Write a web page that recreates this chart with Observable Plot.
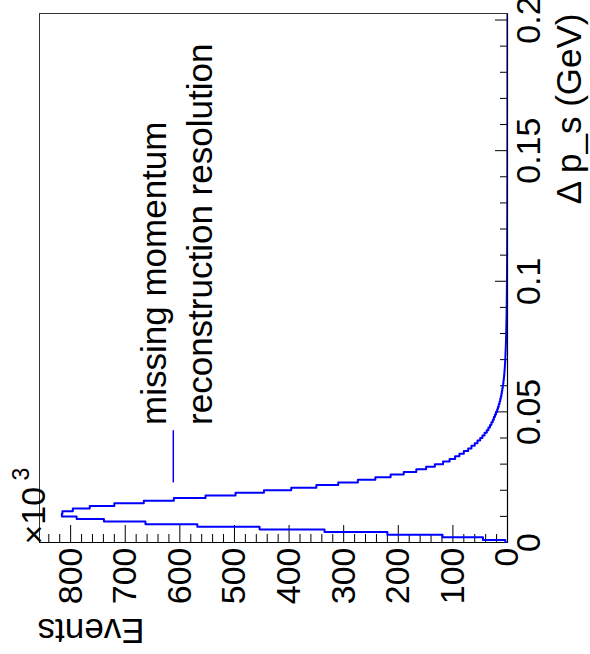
<!DOCTYPE html>
<html><head><meta charset="utf-8">
<script src="https://cdn.jsdelivr.net/npm/d3@7"></script>
<script src="https://cdn.jsdelivr.net/npm/@observablehq/plot@0.6"></script>
<style>
html,body{margin:0;padding:0;background:#fff;}
#wrap{position:relative;width:590px;height:654px;overflow:hidden;background:#fff;}
#wrap svg{position:absolute;left:0;top:0;width:654px !important;height:590px !important;max-width:none !important;transform-origin:0 0;transform:translate(0,654px) rotate(-90deg);}
</style></head><body><div id="wrap"></div>
<script>
// Histogram of Δp_s, bin width 0.001 GeV, counts in units of 10^3 events
const binWidth = 0.001;
const counts = [
  4, 45, 119, 220, 335, 454, 568, 663, 739, 789,
  816, 815, 796, 765, 720, 666, 611, 553, 498, 446,
  396, 350, 310, 274, 242, 214, 190, 167, 149, 133,
  118, 106, 96, 88, 80, 72, 66, 60, 55, 50,
  46, 42, 38, 35, 32, 29.5, 27, 25, 23, 21,
  19, 17.5, 16, 14.5, 13.3, 12.2, 11.2, 10.3, 9.5, 8.7,
  8, 7.4, 6.8, 6.3, 5.9, 5.5, 5.1, 4.8, 4.5, 4.2,
  4.0, 3.8, 3.6, 3.4, 3.2, 3.0, 2.9, 2.7, 2.6, 2.5,
  2.4, 2.3, 2.2, 2.1, 2.0, 1.9, 1.8, 1.7, 1.65, 1.6,
  1.5, 1.45, 1.4, 1.35, 1.3, 1.25, 1.2, 1.15, 1.1, 1.05,
  1.0, 0.97, 0.94, 0.91, 0.88, 0.85, 0.82, 0.79, 0.76, 0.74,
  0.72, 0.7, 0.68, 0.66, 0.64, 0.62, 0.6, 0.58, 0.56, 0.54,
  0.52, 0.5, 0.49, 0.48, 0.46, 0.45, 0.44, 0.43, 0.42, 0.41,
  0.4, 0.39, 0.38, 0.37, 0.36, 0.35, 0.34, 0.33, 0.32, 0.31,
  0.3, 0.29, 0.28, 0.28, 0.27, 0.26, 0.25, 0.25, 0.24, 0.23,
  0.22, 0.22, 0.21, 0.21, 0.2, 0.2, 0.19, 0.19, 0.18, 0.18,
  0.17, 0.17, 0.16, 0.16, 0.15, 0.15, 0.15, 0.14, 0.14, 0.14,
  0.13, 0.13, 0.13, 0.12, 0.12, 0.12, 0.11, 0.11, 0.11, 0.1,
  0.1, 0.1, 0.1, 0.09, 0.09, 0.09, 0.09, 0.08, 0.08, 0.08,
  0.08, 0.07, 0.07, 0.07, 0.07, 0.07, 0.06, 0.06, 0.06, 0.06,
  0.06, 0.05, 0.05
];
const dpDomain = [0, 0.2025];
const evDomain = [0, 857];
const dpTicks = [0, 0.05, 0.1, 0.15, 0.2];
const dpTickLabels = ["0", "0.05", "0.1", "0.15", "0.2"];
const dpMinorTicks = [0.01, 0.02, 0.03, 0.04, 0.06, 0.07, 0.08, 0.09, 0.11, 0.12, 0.13, 0.14, 0.16, 0.17, 0.18, 0.19];
const evTicks = [0, 100, 200, 300, 400, 500, 600, 700, 800];
const evTickLabels = ["0", "100", "200", "300", "400", "500", "600", "700", "800"];
const evMinorTicks = [20, 40, 60, 80, 120, 140, 160, 180, 220, 240, 260, 280, 320, 340, 360, 380,
  420, 440, 460, 480, 520, 540, 560, 580, 620, 640, 660, 680, 720, 740, 760, 780, 820, 840];
const xTitle = "Δ p_s (GeV)";
const yTitle = "Events";
const yExponentBase = "×10";
const yExponent = "3";
const noteLines = ["missing momentum", "reconstruction resolution"];
const noteX = [0.045, 0.045];
const noteY = [626, 542];
const pointer = [{x1: 0.023, x2: 0.043, y: 612}];

const steps = [{x: 0, y: 0}].concat(counts.map((c, i) => ({x: i * binWidth, y: c})));
steps.push({x: counts.length * binWidth, y: counts[counts.length - 1]});

const font = "'Liberation Sans', Arial, Helvetica, sans-serif";
const fsTick = 34;
const fsText = 35;

const chart = Plot.plot({
  width: 654,
  height: 590,
  marginLeft: 111,
  marginRight: 14,
  marginTop: 39,
  marginBottom: 83,
  style: {background: "white", fontFamily: font, fontSize: fsTick + "px", color: "black", overflow: "visible"},
  x: {domain: dpDomain, axis: null},
  y: {domain: evDomain, axis: null},
  marks: [
    Plot.frame({stroke: "#333", strokeWidth: 1}),
    Plot.ruleY([0], {stroke: "black", strokeWidth: 1.2}),
    Plot.ruleX([0], {stroke: "black", strokeWidth: 1.2}),
    // Δp axis ticks (inside the frame) and labels
    Plot.axisX({ticks: dpMinorTicks, tickSize: -7, text: null, label: null, stroke: "black"}),
    Plot.axisX({ticks: dpTicks, tickSize: -12, text: null, label: null, stroke: "black"}),
    Plot.axisX({ticks: dpTicks, tickSize: 0, tickPadding: 8, label: null, fontSize: fsTick,
      tickFormat: (d) => dpTickLabels[dpTicks.indexOf(d)]}),
    // Events axis ticks and labels
    Plot.axisY({ticks: evMinorTicks, tickSize: -9, text: null, label: null, stroke: "black"}),
    Plot.axisY({ticks: evTicks, tickSize: -18, text: null, label: null, stroke: "black"}),
    Plot.axisY({ticks: evTicks, tickSize: 0, tickPadding: 5, label: null, fontSize: fsTick,
      tickFormat: (d) => evTickLabels[evTicks.indexOf(d)]}),
    // histogram
    Plot.line(steps, {x: "x", y: "y", curve: "step-after", stroke: "#0000ff", strokeWidth: 2, clip: true}),
    // annotation
    Plot.link(pointer, {x1: "x1", x2: "x2", y1: "y", y2: "y", stroke: "#0000ff", strokeWidth: 1.5}),
    Plot.text(noteLines, {x: (d, i) => noteX[i], y: (d, i) => noteY[i], text: (d) => d,
      textAnchor: "start", lineAnchor: "bottom", fontSize: fsText, fill: "black"}),
    // axis titles
    Plot.text([xTitle], {frameAnchor: "bottom-right", text: (d) => d, textAnchor: "end",
      lineAnchor: "bottom", dy: 73, fontSize: fsText, fill: "black"}),
    Plot.text([yTitle], {frameAnchor: "top-left", text: (d) => d, textAnchor: "end",
      lineAnchor: "bottom", rotate: -90, dx: -76, dy: -2, fontSize: fsText, fill: "black"}),
    Plot.text([yExponentBase], {frameAnchor: "top-left", text: (d) => d, textAnchor: "start",
      lineAnchor: "bottom", dx: -2, dy: 5, fontSize: fsTick, fill: "black"}),
    Plot.text([yExponent], {frameAnchor: "top-left", text: (d) => d, textAnchor: "start",
      lineAnchor: "bottom", dx: 62, dy: -11, fontSize: 23, fill: "black"})
  ]
});
document.getElementById("wrap").appendChild(chart);
</script>
</body></html>
